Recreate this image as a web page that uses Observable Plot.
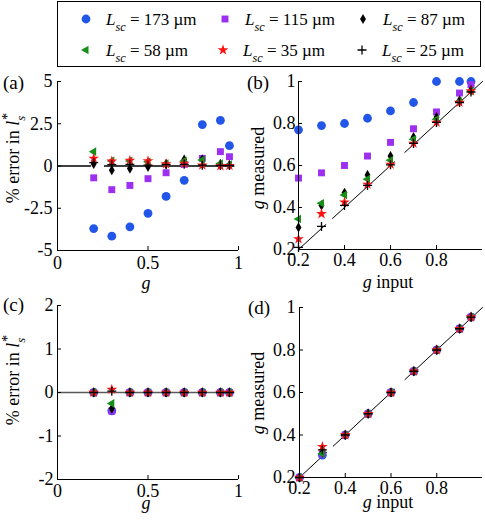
<!DOCTYPE html>
<html><head><meta charset="utf-8">
<script src="https://cdn.jsdelivr.net/npm/d3@7"></script>
<script src="https://cdn.jsdelivr.net/npm/@observablehq/plot@0.6"></script>
<style>
body{margin:0;background:#fff;}
#root{position:relative;width:485px;height:522px;color:#000;overflow:hidden}
#root, #root *{font-family:'Liberation Serif',serif !important}
#root svg.p{position:absolute;left:0;top:0;overflow:visible;background:transparent}
#root svg.p text{font-size:18px}
.t{position:absolute;font-size:18px;white-space:nowrap;line-height:1}
.c{transform:translateX(-50%)}
.yl{position:absolute;font-size:18px;white-space:nowrap;line-height:1;transform:translate(-50%,-50%) rotate(-90deg)}
.leg{position:absolute;left:57px;top:1px;width:424px;height:66px;border:1px solid #000;box-sizing:border-box}
.lt{position:absolute;font-size:17px;white-space:nowrap;line-height:1}
sub{font-size:0.72em;vertical-align:-0.45em;line-height:0}
sup{font-size:0.8em;vertical-align:0.5em;line-height:0}
</style></head><body><div id="root"></div>
<script>
// ---------- data ----------
const gValues = [0.2, 0.3, 0.4, 0.5, 0.6, 0.7, 0.8, 0.9, 0.95];
const seriesNames = ["173", "115", "87", "58", "35", "25"];

// panel (a): % error in l_s*
const errA173 = [-3.7, -4.15, -3.6, -2.8, -1.8, -0.85, 2.45, 2.7, 1.2];
const errA115 = [-0.7, -1.4, -1.15, -0.75, -0.4, 0.1, 0.45, 0.85, 0.55];
const errA87  = [0.12, -0.25, -0.15, -0.05, 0.12, 0.38, 0.4, 0.12, 0.06];
const errA58  = [0.85, 0.3, 0.3, 0.25, 0.15, 0.3, 0.35, 0.15, 0.08];
const errA35  = [0.45, 0.28, 0.33, 0.3, 0.12, 0.15, 0.05, 0.0, 0.02];
const errA25  = [0.2, 0.08, 0.1, 0.05, 0.08, 0.1, 0.05, 0.03, 0.03];

// panel (b): g measured
const gB173 = [0.77, 0.79, 0.80, 0.825, 0.86, 0.90, 1.0, 1.0, 1.0];
const gB115 = [0.54, 0.565, 0.60, 0.645, 0.71, 0.775, 0.855, 0.945, 0.985];
const gB87  = [0.305, 0.41, 0.47, 0.555, 0.645, 0.735, 0.83, 0.91, 0.96];
const gB58  = [0.345, 0.42, 0.46, 0.535, 0.625, 0.725, 0.82, 0.905, 0.955];
const gB35  = [0.25, 0.37, 0.425, 0.51, 0.605, 0.705, 0.805, 0.9, 0.955];
const gB25  = [0.21, 0.31, 0.41, 0.505, 0.603, 0.705, 0.805, 0.9, 0.95];

// panel (c): % error in l_s*
const errC173 = [0, -0.42, 0, 0, 0, 0, 0, 0, 0];
const errC115 = [0, -0.43, 0, 0, 0, 0, 0, 0, 0];
const errC87  = [0, -0.37, 0, 0, 0, 0, 0, 0, 0];
const errC58  = [0, -0.25, 0, 0, 0, 0, 0, 0, 0];
const errC35  = [0, 0.07, 0, 0, 0, 0, 0, 0, 0];
const errC25  = [0, 0.03, 0, 0, 0, 0, 0, 0, 0];

// panel (d): g measured
const gD173 = [0.2, 0.305, 0.4, 0.5, 0.6, 0.7, 0.8, 0.9, 0.955];
const gD115 = [0.2, 0.31, 0.4, 0.5, 0.6, 0.7, 0.8, 0.9, 0.955];
const gD87  = [0.2, 0.318, 0.4, 0.5, 0.6, 0.7, 0.8, 0.9, 0.955];
const gD58  = [0.2, 0.312, 0.4, 0.5, 0.6, 0.7, 0.8, 0.9, 0.955];
const gD35  = [0.2, 0.345, 0.4, 0.5, 0.6, 0.7, 0.8, 0.9, 0.955];
const gD25  = [0.2, 0.33, 0.4, 0.5, 0.6, 0.7, 0.8, 0.9, 0.955];

// ticks
const ticksErrA = [-5, -2.5, 0, 2.5, 5];
const ticksErrC = [-2, -1, 0, 1, 2];
const ticksG01 = [0, 0.5, 1];
const ticksG = [0.2, 0.4, 0.6, 0.8];
const ticksGY = [0.2, 0.4, 0.6, 0.8, 1];
const zeroLineX = [0, 0.98];
const identityLine = [0.2, 1];

// ---------- styles ----------
const W = 485, H = 522;
const FONT = "'Liberation Serif',serif";
const blue = "#2156e8", purple = "#9d2ff0", green = "#17901a", red = "#ff1010";
const styles = [
  {symbol: "circle", fill: blue, r: 4.4},
  {symbol: "square", fill: purple, r: 3.9},
  {symbol: "diamond", fill: "#000", r: 3.1},
  {symbol: "triangle", fill: green, r: 3.2, rotate: -90},
  {symbol: "star", fill: red, r: 3.4},
  {symbol: "plus", stroke: "#000", r: 3.0, strokeWidth: 1.3, fill: "none"}
];
const fmt = d => String(d);

function seriesMarks(arrays) {
  return arrays.map((arr, i) => {
    const rows = gValues.map((g, j) => ({g, v: arr[j]}));
    const s = styles[i];
    const o = {x: "g", y: "v", symbol: s.symbol, r: s.r};
    if (s.fill) o.fill = s.fill;
    if (s.stroke) { o.stroke = s.stroke; o.strokeWidth = s.strokeWidth; }
    if (s.rotate) o.rotate = s.rotate;
    return Plot.dot(rows, o);
  });
}

function panel({x0, x1, y0, y1, xDomain, yDomain, xTicks, yTicks, xPad, yPad, extra, series}) {
  const svg = Plot.plot({
    width: W, height: H,
    marginLeft: x0, marginRight: W - x1, marginTop: y0, marginBottom: H - y1,
    style: {fontFamily: FONT, fontSize: "18px", background: "transparent", overflow: "visible"},
    x: {domain: xDomain},
    y: {domain: yDomain},
    marks: [
      ...extra,
      ...seriesMarks(series),
      Plot.ruleX([xDomain[0]], {stroke: "#000", strokeWidth: 1}),
      Plot.ruleY([yDomain[0]], {stroke: "#000", strokeWidth: 1}),
      Plot.axisX({ticks: xTicks, tickFormat: fmt, tickSize: -4, tickPadding: xPad, label: null, fill: "#000", stroke: "#000"}),
      Plot.axisY({ticks: yTicks, tickFormat: fmt, tickSize: -4, tickPadding: yPad, label: null, fill: "#000", stroke: "#000"})
    ]
  });
  svg.classList.add("p");
  return svg;
}

const root = document.getElementById("root");

root.appendChild(panel({
  x0: 57, x1: 238, y0: 81, y1: 250, xDomain: [0, 1], yDomain: [-5, 5],
  xTicks: ticksG01, yTicks: ticksErrA, xPad: 10, yPad: 9,
  extra: [Plot.ruleY([0], {x1: zeroLineX[0], x2: zeroLineX[1], stroke: "#000", strokeWidth: 1.3, strokeDasharray: "34,13,400"})],
  series: [errA173, errA115, errA87, errA58, errA35, errA25]
}));
root.appendChild(panel({
  x0: 298, x1: 482, y0: 81, y1: 249, xDomain: [0.2, 1], yDomain: [0.2, 1],
  xTicks: ticksG, yTicks: ticksGY, xPad: 8, yPad: 7,
  extra: [Plot.line(identityLine, {x: d => d, y: d => d, stroke: "#000", strokeWidth: 1, strokeDasharray: "37,9,84,14,400"})],
  series: [gB173, gB115, gB87, gB58, gB35, gB25]
}));
root.appendChild(panel({
  x0: 57, x1: 238, y0: 305, y1: 479, xDomain: [0, 1], yDomain: [-2, 2],
  xTicks: ticksG01, yTicks: ticksErrC, xPad: 9, yPad: 8,
  extra: [Plot.ruleY([0], {x1: zeroLineX[0], x2: zeroLineX[1], stroke: "#5a5a5a", strokeWidth: 1.6})],
  series: [errC173, errC115, errC87, errC58, errC35, errC25]
}));
root.appendChild(panel({
  x0: 299, x1: 482, y0: 307, y1: 477, xDomain: [0.2, 1], yDomain: [0.2, 1],
  xTicks: ticksG, yTicks: ticksGY, xPad: 8, yPad: 8,
  extra: [Plot.line(identityLine, {x: d => d, y: d => d, stroke: "#000", strokeWidth: 1, strokeDasharray: "37,9,84,14,400"})],
  series: [gD173, gD115, gD87, gD58, gD35, gD25]
}));

// ---------- text ----------
function addText(cls, html, css) {
  const d = document.createElement("div");
  d.className = cls;
  d.innerHTML = html;
  Object.assign(d.style, css);
  root.appendChild(d);
  return d;
}
const yLabErr = '% error in <i>l</i><sub><i>s</i></sub><sup style="margin-left:-0.3em">*</sup>';
const yLabG = '<i>g</i> measured';
addText("yl", yLabErr, {left: "13px", top: "158px"});
addText("yl", yLabG, {left: "258px", top: "168px"});
addText("yl", yLabErr, {left: "13px", top: "380px"});
addText("yl", yLabG, {left: "258px", top: "393px"});

addText("t c", "<i>g</i>", {left: "146px", top: "274px"});
addText("t c", "<i>g</i> input", {left: "388px", top: "273px"});
addText("t c", "<i>g</i>", {left: "146px", top: "494px"});
addText("t c", "<i>g</i> input", {left: "388px", top: "493px"});

addText("t", "(a)", {left: "3px", top: "73px", fontSize: "19px"});
addText("t", "(b)", {left: "247px", top: "73px", fontSize: "19px"});
addText("t", "(c)", {left: "3px", top: "295px", fontSize: "19px"});
addText("t", "(d)", {left: "248px", top: "298px", fontSize: "19px"});

// ---------- legend ----------
const leg = document.createElement("div");
leg.className = "leg";
root.appendChild(leg);
const legPos = [[86, 19], [225, 19], [363, 19], [86, 50], [223, 50], [362, 50]];
const ns = "http://www.w3.org/2000/svg";
const lsvg = document.createElementNS(ns, "svg");
lsvg.setAttribute("width", W); lsvg.setAttribute("height", 70);
lsvg.style.position = "absolute"; lsvg.style.left = "0"; lsvg.style.top = "0";
root.appendChild(lsvg);
const symMap = {circle: d3.symbolCircle, square: d3.symbolSquare, diamond: d3.symbolDiamond, triangle: d3.symbolTriangle, star: d3.symbolStar, plus: d3.symbolPlus};
seriesNames.forEach((name, i) => {
  const s = styles[i];
  const [x, y] = legPos[i];
  const p = document.createElementNS(ns, "path");
  p.setAttribute("d", d3.symbol(symMap[s.symbol], Math.PI * s.r * s.r)());
  p.setAttribute("transform", `translate(${x},${y}) rotate(${s.rotate || 0})`);
  p.setAttribute("fill", s.fill || "none");
  if (s.stroke) { p.setAttribute("stroke", s.stroke); p.setAttribute("stroke-width", s.strokeWidth); }
  lsvg.appendChild(p);
  addText("lt", `<i>L</i><sub><i>sc</i></sub> = ${name} µm`, {left: (x + 20) + "px", top: (y - 8) + "px"});
});
</script>
</body></html>
